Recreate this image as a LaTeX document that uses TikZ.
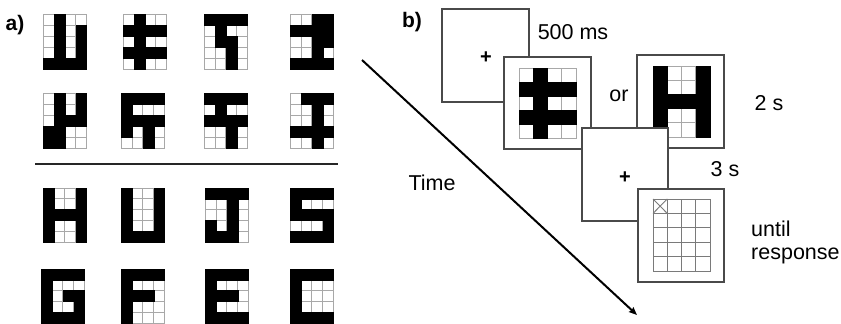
\documentclass[tikz,border=0pt]{standalone}
\usepackage{fontspec}
\setmainfont{Liberation Sans}
\usetikzlibrary{arrows.meta}
\definecolor{gridgray}{HTML}{A8A8A8}
\definecolor{respgray}{HTML}{7A7A7A}
\definecolor{framegray}{HTML}{4A4A4A}
\tikzset{
  gridline/.style={draw=gridgray, line width=0.8pt},
  blackcell/.style={fill=black, draw=black, line width=0.3pt},
  frame/.style={draw=framegray, fill=white, line width=1.1pt, inner sep=0pt},
  lbl/.style={inner sep=0pt, font=\fontsize{21.5}{23}\selectfont},
  panellbl/.style={inner sep=0pt, font=\fontsize{21}{23}\selectfont\bfseries},
  plusmark/.style={inner sep=0pt, font=\fontsize{20}{22}\selectfont\bfseries},
}
\newcommand{\drawglyph}[5]{%
  \foreach \rowbits [count=\r from 0] in {#5} {
    \foreach \b [count=\c from 0] in \rowbits {
      \draw[gridline] ({#1+\c*#3},{#2+\r*#4}) rectangle ++(#3,#4);
    }
  }
  \foreach \rowbits [count=\r from 0] in {#5} {
    \foreach \b [count=\c from 0] in \rowbits {
      \ifnum\b=1 \path[blackcell] ({#1+\c*#3},{#2+\r*#4}) rectangle ++(#3,#4);\fi
    }
  }
}
\begin{document}
\begin{tikzpicture}[x=1pt, y=-1pt]
\useasboundingbox (0,0) rectangle (841,324);
% ---------- panel a ----------
\node[panellbl] (la) at (15,25) {a)};
% row 1
\drawglyph{43}{14}{10.9}{11}{{0,1,0,0},{0,1,0,1},{0,1,0,1},{0,1,0,1},{1,1,1,1}}
\drawglyph{123}{14}{10.9}{11}{{0,1,0,0},{1,1,1,1},{0,1,0,0},{1,1,1,1},{0,1,0,0}}
\drawglyph{204}{14}{10.9}{11}{{1,1,1,1},{0,1,0,0},{0,1,1,0},{0,0,1,0},{0,0,1,0}}
\drawglyph{290}{14}{10.9}{11}{{0,0,1,1},{1,1,1,1},{0,0,1,1},{0,0,1,0},{1,1,1,1}}
% row 2
\drawglyph{43}{93}{10.9}{11}{{0,1,0,1},{0,1,0,1},{0,1,1,1},{1,1,0,0},{1,1,0,0}}
\drawglyph{121}{93}{10.9}{11}{{1,1,1,1},{1,0,0,0},{1,1,1,1},{1,0,1,0},{0,0,1,0}}
\drawglyph{204}{93}{10.9}{11}{{1,1,1,1},{0,1,0,0},{1,1,1,1},{0,0,1,0},{0,0,1,0}}
\drawglyph{290}{93}{10.9}{11}{{0,1,1,1},{0,0,1,0},{0,0,1,0},{1,1,1,1},{0,0,1,0}}
% separator
\coordinate (sepL) at (35,164);
\coordinate (sepR) at (338,164);
\draw[line width=2.4pt, color=black!85] (sepL) -- (sepR);
% row 3
\drawglyph{43}{188}{10.9}{10.8}{{1,0,0,1},{1,0,0,1},{1,1,1,1},{1,0,0,1},{1,0,0,1}}
\drawglyph{121}{188}{10.9}{10.8}{{1,0,0,1},{1,0,0,1},{1,0,0,1},{1,0,0,1},{1,1,1,1}}
\drawglyph{205}{188}{10.9}{10.8}{{1,1,1,1},{0,0,1,0},{0,0,1,0},{1,0,1,0},{1,1,1,0}}
\drawglyph{290}{188}{10.9}{10.8}{{1,1,1,1},{1,0,0,0},{1,1,1,1},{0,0,0,1},{1,1,1,1}}
% row 4
\drawglyph{41}{269}{10.9}{10.8}{{1,1,1,1},{1,0,0,0},{1,0,1,1},{1,0,0,1},{1,1,1,1}}
\drawglyph{121}{269}{10.9}{10.8}{{1,1,1,1},{1,0,0,0},{1,1,1,0},{1,0,0,0},{1,0,0,0}}
\drawglyph{205}{269}{10.9}{10.8}{{1,1,1,1},{1,0,0,0},{1,1,1,0},{1,0,0,0},{1,1,1,1}}
\drawglyph{290}{269}{10.9}{10.8}{{1,1,1,1},{1,0,0,0},{1,0,0,0},{1,0,0,0},{1,1,1,1}}
% ---------- panel b ----------
\node[panellbl] (lb) at (412,22) {b)};
% time arrow
\coordinate (tstart) at (362,60);
\coordinate (tend) at (637,315);
\draw[line width=2pt, -{Stealth[length=8pt,width=6.5pt,inset=1pt]}] (tstart) -- (tend);
\node[lbl] (time) at (432,183) {Time};
% frames
\node[frame, minimum width=87pt, minimum height=93pt] (f1) at (485.5,55.5) {};
\node[plusmark] (p1) at (486,58) {+};
\node[frame, minimum width=87pt, minimum height=92pt] (f2) at (547.5,103) {};
\drawglyph{519}{68}{14.25}{14}{{0,1,0,0},{1,1,1,1},{0,1,0,0},{1,1,1,1},{0,1,0,0}}
\node[frame, minimum width=87pt, minimum height=93pt] (f3) at (680.5,101.5) {};
\drawglyph{653}{66}{14.25}{14.2}{{1,0,0,1},{1,0,0,1},{1,1,1,1},{1,0,0,1},{1,0,0,1}}
\node[frame, minimum width=86pt, minimum height=93pt] (f4) at (625,174.5) {};
\node[plusmark] (p2) at (625,178) {+};
\node[frame, minimum width=86pt, minimum height=93pt] (f5) at (681,235.5) {};
\begin{scope}[gridline/.style={draw=respgray, line width=0.9pt}]
\drawglyph{653}{199}{14.25}{14.4}{{0,0,0,0},{0,0,0,0},{0,0,0,0},{0,0,0,0},{0,0,0,0}}
\end{scope}
\coordinate (xa) at (653,199);
\coordinate (xb) at (667.25,213.4);
\coordinate (xc) at (667.25,199);
\coordinate (xd) at (653,213.4);
\draw[draw=respgray, line width=0.9pt] (xa) -- (xb) (xc) -- (xd);
% labels
\node[lbl] (t500) at (573,32) {500 ms};
\node[lbl] (tor) at (619,96) {or};
\node[lbl] (t2s) at (769,103) {2 s};
\node[lbl] (t3s) at (725,169) {3 s};
\node[lbl, anchor=west, align=left] (tuntil) at (751,242) {until\\response};
\end{tikzpicture}
\end{document}
